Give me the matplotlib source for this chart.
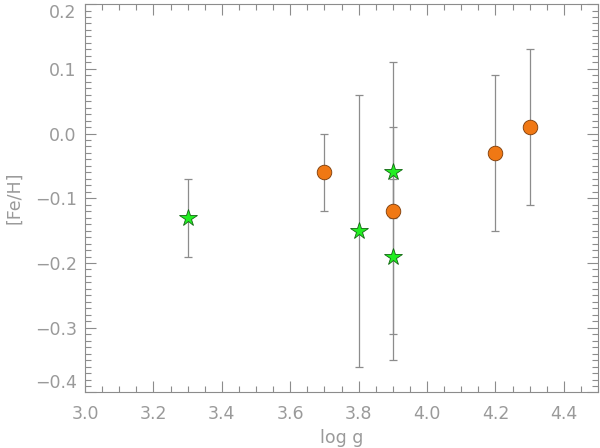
import matplotlib
matplotlib.use('Agg')
import matplotlib.pyplot as plt
from matplotlib.ticker import MultipleLocator

# stars (green)
star_logg = [3.3, 3.8, 3.9, 3.9]
star_feh = [-0.13, -0.15, -0.06, -0.19]
star_err = [0.06, 0.21, 0.07, 0.12]

# circles (orange)
circ_logg = [3.7, 3.9, 4.2, 4.3]
circ_feh = [-0.06, -0.12, -0.03, 0.01]
circ_err = [0.06, 0.23, 0.12, 0.12]

xticks = [3.0, 3.2, 3.4, 3.6, 3.8, 4.0, 4.2, 4.4]
yticks = [-0.4, -0.3, -0.2, -0.1, 0.0, 0.1, 0.2]

grey = '#8c8c8c'
tgrey = '#9a9a9a'
plt.rcParams['font.family'] = 'DejaVu Sans'


def fmt(v):
    s = '%.1f' % abs(v)
    return '\u2212' + s if v < 0 else s


fig = plt.figure(figsize=(6, 4.48), dpi=100)
ax = fig.add_axes([0.1417, 0.124, 0.855, 0.867])

ax.errorbar(star_logg, star_feh, yerr=star_err, fmt='none', ecolor=grey,
            elinewidth=0.9, capsize=3, capthick=0.9, zorder=1)
ax.errorbar(circ_logg, circ_feh, yerr=circ_err, fmt='none', ecolor=grey,
            elinewidth=0.9, capsize=3, capthick=0.9, zorder=1)
ax.plot(circ_logg, circ_feh, 'o', ms=10.5, mfc='#f07814', mec='#7a3a08',
        mew=0.6, ls='none', zorder=3)
ax.plot(star_logg, star_feh, '*', ms=13, mfc='#22ee22', mec='#126612',
        mew=0.6, ls='none', zorder=3)

ax.set_xlim(3.0, 4.5)
ax.set_ylim(-0.4, 0.2)
ax.set_xticks(xticks)
ax.set_xticklabels([fmt(v) for v in xticks])
ax.set_yticks(yticks)
ax.set_yticklabels([fmt(v) for v in yticks])
ax.xaxis.set_minor_locator(MultipleLocator(0.05))
ax.yaxis.set_minor_locator(MultipleLocator(0.01))
ax.tick_params(which='both', direction='in', top=True, right=True,
               color=grey, labelcolor=tgrey, labelsize=12.5, width=0.8)
ax.tick_params(which='major', length=8)
ax.tick_params(axis='x', which='major', pad=9)
ax.tick_params(axis='y', which='major', pad=6)
ax.tick_params(which='minor', length=4)
for s in ax.spines.values():
    s.set_color(grey)
    s.set_linewidth(0.8)

# keep end labels inside the figure like the original
ylabels = ax.get_yticklabels()
ylabels[0].set_va('bottom')
ylabels[-1].set_va('top')

ax.set_xlabel('log g', color=tgrey, fontsize=12.5, labelpad=4)
ax.set_ylabel('[Fe/H]', color=tgrey, fontsize=12.5)
ax.yaxis.set_label_coords(-0.12, 0.5)

fig.savefig('out.png', dpi=100)
